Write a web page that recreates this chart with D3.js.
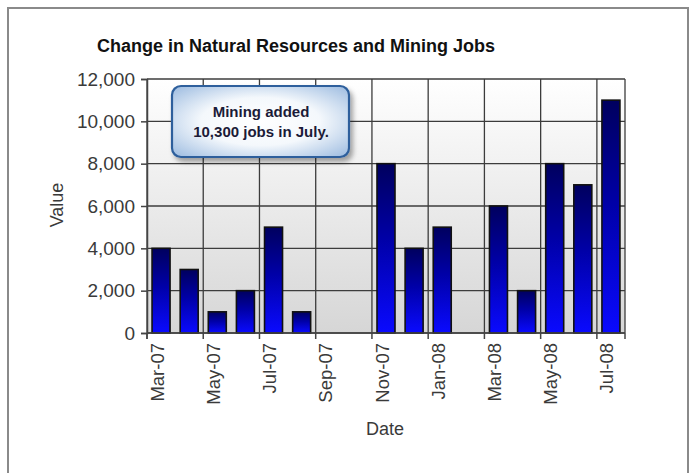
<!DOCTYPE html>
<html>
<head>
<meta charset="utf-8">
<script src="https://cdn.jsdelivr.net/npm/d3@7"></script>
<style>
  html, body { margin: 0; padding: 0; background: #fff; }
  svg { display: block; font-family: Arial, "Liberation Sans", sans-serif; }
</style>
</head>
<body>
<svg id="chart" width="691" height="473"></svg>
<script>
// Monthly change in natural resources and mining jobs
const months = ["Mar-07","Apr-07","May-07","Jun-07","Jul-07","Aug-07","Sep-07","Oct-07",
                "Nov-07","Dec-07","Jan-08","Feb-08","Mar-08","Apr-08","May-08","Jun-08","Jul-08"];
const values = [4000, 3000, 1000, 2000, 5000, 1000, null, null,
                8000, 4000, 5000, null, 6000, 2000, 8000, 7000, 11000];
const yTicks = [0, 2000, 4000, 6000, 8000, 10000, 12000];
const xTickLabels = ["Mar-07","May-07","Jul-07","Sep-07","Nov-07","Jan-08","Mar-08","May-08","Jul-08"];
const titleText = "Change in Natural Resources and Mining Jobs";
const noteLines = ["Mining added", "10,300 jobs in July."];

const svg = d3.select("#chart");
const plot = { left: 147, right: 625, top: 79, bottom: 333 };

const defs = svg.append("defs");
const bg = defs.append("linearGradient").attr("id", "plotBg")
  .attr("x1", 0).attr("y1", 0).attr("x2", 0).attr("y2", 1);
bg.append("stop").attr("offset", "0%").attr("stop-color", "#ffffff");
bg.append("stop").attr("offset", "100%").attr("stop-color", "#d6d6d6");

const barGrad = defs.append("linearGradient").attr("id", "barFill")
  .attr("x1", 0).attr("y1", 0).attr("x2", 0).attr("y2", 1);
barGrad.append("stop").attr("offset", "0%").attr("stop-color", "#00005e");
barGrad.append("stop").attr("offset", "45%").attr("stop-color", "#0000a8");
barGrad.append("stop").attr("offset", "100%").attr("stop-color", "#0a0aff");

const noteGrad = defs.append("radialGradient").attr("id", "noteFill")
  .attr("cx", "50%").attr("cy", "50%").attr("r", "75%");
noteGrad.append("stop").attr("offset", "0%").attr("stop-color", "#ffffff");
noteGrad.append("stop").attr("offset", "45%").attr("stop-color", "#f4f8fc");
noteGrad.append("stop").attr("offset", "100%").attr("stop-color", "#8fb2dc");

const shadow = defs.append("filter").attr("id", "noteShadow")
  .attr("x", "-20%").attr("y", "-20%").attr("width", "150%").attr("height", "160%");
shadow.append("feDropShadow").attr("dx", 3).attr("dy", 4).attr("stdDeviation", 2.5)
  .attr("flood-color", "#000").attr("flood-opacity", 0.35);

// Outer frame
svg.append("rect").attr("x", 8).attr("y", 8).attr("width", 680).attr("height", 480)
  .attr("fill", "#fff").attr("stroke", "#8a8a8a").attr("stroke-width", 2);

// Scales
const x = d3.scaleBand().domain(months).range([plot.left, plot.right])
  .paddingInner(0.36).paddingOuter(0.18);
const xGrid = d3.scaleBand().domain(months).range([plot.left, plot.right]).padding(0);
const y = d3.scaleLinear().domain([0, 12000]).range([plot.bottom, plot.top]);

// Plot background
svg.append("rect").attr("x", plot.left).attr("y", plot.top)
  .attr("width", plot.right - plot.left).attr("height", plot.bottom - plot.top)
  .attr("fill", "url(#plotBg)");

// Gridlines
const gridColor = "#3c3c3c";
svg.append("g").selectAll("line").data(yTicks).join("line")
  .attr("x1", plot.left).attr("x2", plot.right)
  .attr("y1", d => y(d)).attr("y2", d => y(d))
  .attr("stroke", gridColor).attr("stroke-width", 1.3);

const vGridX = xTickLabels.map(m => xGrid(m)).concat([plot.right]);
svg.append("g").selectAll("line").data(vGridX).join("line")
  .attr("x1", d => d).attr("x2", d => d)
  .attr("y1", plot.top).attr("y2", plot.bottom)
  .attr("stroke", gridColor).attr("stroke-width", 1.3);

// Bars
svg.append("g").selectAll("rect")
  .data(months.map((m, i) => ({ m, v: values[i] })).filter(d => d.v != null))
  .join("rect")
  .attr("x", d => x(d.m)).attr("width", x.bandwidth())
  .attr("y", d => y(d.v)).attr("height", d => y(0) - y(d.v))
  .attr("fill", "url(#barFill)")
  .attr("stroke", "#111").attr("stroke-width", 1.6);

// Y axis
const yAxis = d3.axisLeft(y).tickValues(yTicks).tickSize(6).tickPadding(6)
  .tickFormat(d3.format(","));
const gy = svg.append("g").attr("transform", `translate(${plot.left},0)`).call(yAxis);
gy.select(".domain").attr("stroke", "#444").attr("stroke-width", 1.5);
gy.selectAll(".tick line").attr("stroke", "#444").attr("stroke-width", 1.5);
gy.selectAll(".tick text").attr("fill", "#3a3a3a").style("font-size", "19px")
  .style("font-family", "Arial, 'Liberation Sans', sans-serif");

// X axis baseline and ticks
svg.append("line").attr("x1", plot.left).attr("x2", plot.right)
  .attr("y1", plot.bottom).attr("y2", plot.bottom)
  .attr("stroke", "#444").attr("stroke-width", 1.5);
svg.append("g").selectAll("line").data(vGridX.concat([plot.left])).join("line")
  .attr("x1", d => d).attr("x2", d => d)
  .attr("y1", plot.bottom).attr("y2", plot.bottom + 6)
  .attr("stroke", "#444").attr("stroke-width", 1.5);

svg.append("g").selectAll("text").data(xTickLabels).join("text")
  .attr("transform", m => `translate(${x(m) + x.bandwidth() / 2 - 4},${plot.bottom + 10}) rotate(-90)`)
  .attr("text-anchor", "end").attr("dominant-baseline", "central")
  .attr("fill", "#3a3a3a").style("font-size", "18.5px")
  .text(d => d);

// Axis titles
svg.append("text").attr("transform", `translate(57,205) rotate(-90)`)
  .attr("text-anchor", "middle").attr("dominant-baseline", "central")
  .attr("fill", "#3a3a3a").style("font-size", "18px").text("Value");
svg.append("text").attr("x", 385).attr("y", 435)
  .attr("text-anchor", "middle").attr("fill", "#3a3a3a")
  .style("font-size", "18px").text("Date");

// Chart title
svg.append("text").attr("x", 97).attr("y", 52)
  .attr("fill", "#111").style("font-size", "18px").style("font-weight", "bold")
  .text(titleText);

// Callout
const note = svg.append("g");
note.append("rect").attr("x", 172).attr("y", 86).attr("width", 177).attr("height", 71)
  .attr("rx", 9).attr("ry", 9)
  .attr("fill", "url(#noteFill)").attr("stroke", "#2d5f9c").attr("stroke-width", 2.2)
  .attr("filter", "url(#noteShadow)");
note.selectAll("text").data(noteLines).join("text")
  .attr("x", 261).attr("y", (d, i) => 117 + i * 20)
  .attr("text-anchor", "middle").attr("fill", "#1b1b38")
  .style("font-size", "15px").style("font-weight", "bold")
  .text(d => d);
</script>
</body>
</html>
